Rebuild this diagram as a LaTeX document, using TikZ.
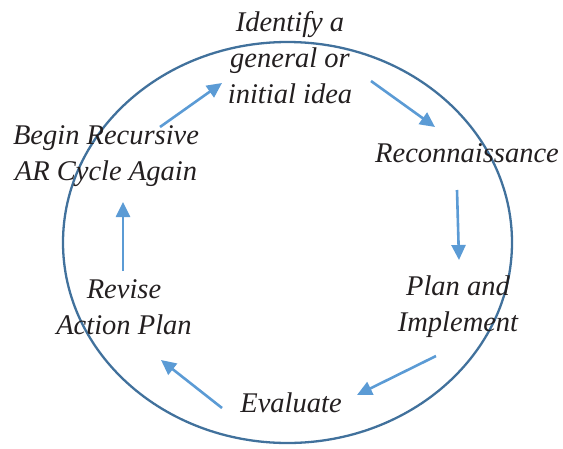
\documentclass[tikz,border=0pt]{standalone}
\usepackage{fontspec}
\setmainfont{Liberation Serif}
\usetikzlibrary{arrows.meta}
\definecolor{ringblue}{HTML}{41719C}
\definecolor{arrowblue}{HTML}{5B9BD5}
\definecolor{txt}{HTML}{231F20}
\begin{document}
\begin{tikzpicture}[x=1pt,y=-1pt,
  lbl/.style={align=center,text=txt,inner sep=0pt,font=\fontsize{28.5}{36}\selectfont\itshape},
  flow/.style={draw=arrowblue,line width=2.6pt,-{Triangle[length=15pt,width=14pt]}},
  ring/.style={draw=ringblue,line width=2.3pt}]
\useasboundingbox (0,0) rectangle (563,448);
\draw[ring] (287.5,242.5) ellipse [x radius=224.5,y radius=200.5];
\node[lbl] (idea) at (290,58) {Identify a\\general or\\initial idea};
\node[lbl] (recon) at (467,153) {Reconnaissance};
\node[lbl] (plan) at (458,307) {Plan and\\Implement};
\node[lbl] (eval) at (291,403) {Evaluate};
\node[lbl] (revise) at (124,307) {Revise\\Action Plan};
\node[lbl] (begin) at (106,156) {Begin Recursive\\AR Cycle Again};
\coordinate (a1s) at (160,127); \coordinate (a1e) at (222,83);
\coordinate (a2s) at (371,81);  \coordinate (a2e) at (435,127);
\coordinate (a3s) at (457,190); \coordinate (a3e) at (459,260);
\coordinate (a4s) at (436,356); \coordinate (a4e) at (357,395);
\coordinate (a5s) at (222,408); \coordinate (a5e) at (161,360);
\coordinate (a6s) at (123,271); \coordinate (a6e) at (123,202);
\draw[flow] (a1s) -- (a1e);
\draw[flow] (a2s) -- (a2e);
\draw[flow] (a3s) -- (a3e);
\draw[flow] (a4s) -- (a4e);
\draw[flow] (a5s) -- (a5e);
\draw[flow] (a6s) -- (a6e);
\end{tikzpicture}
\end{document}
